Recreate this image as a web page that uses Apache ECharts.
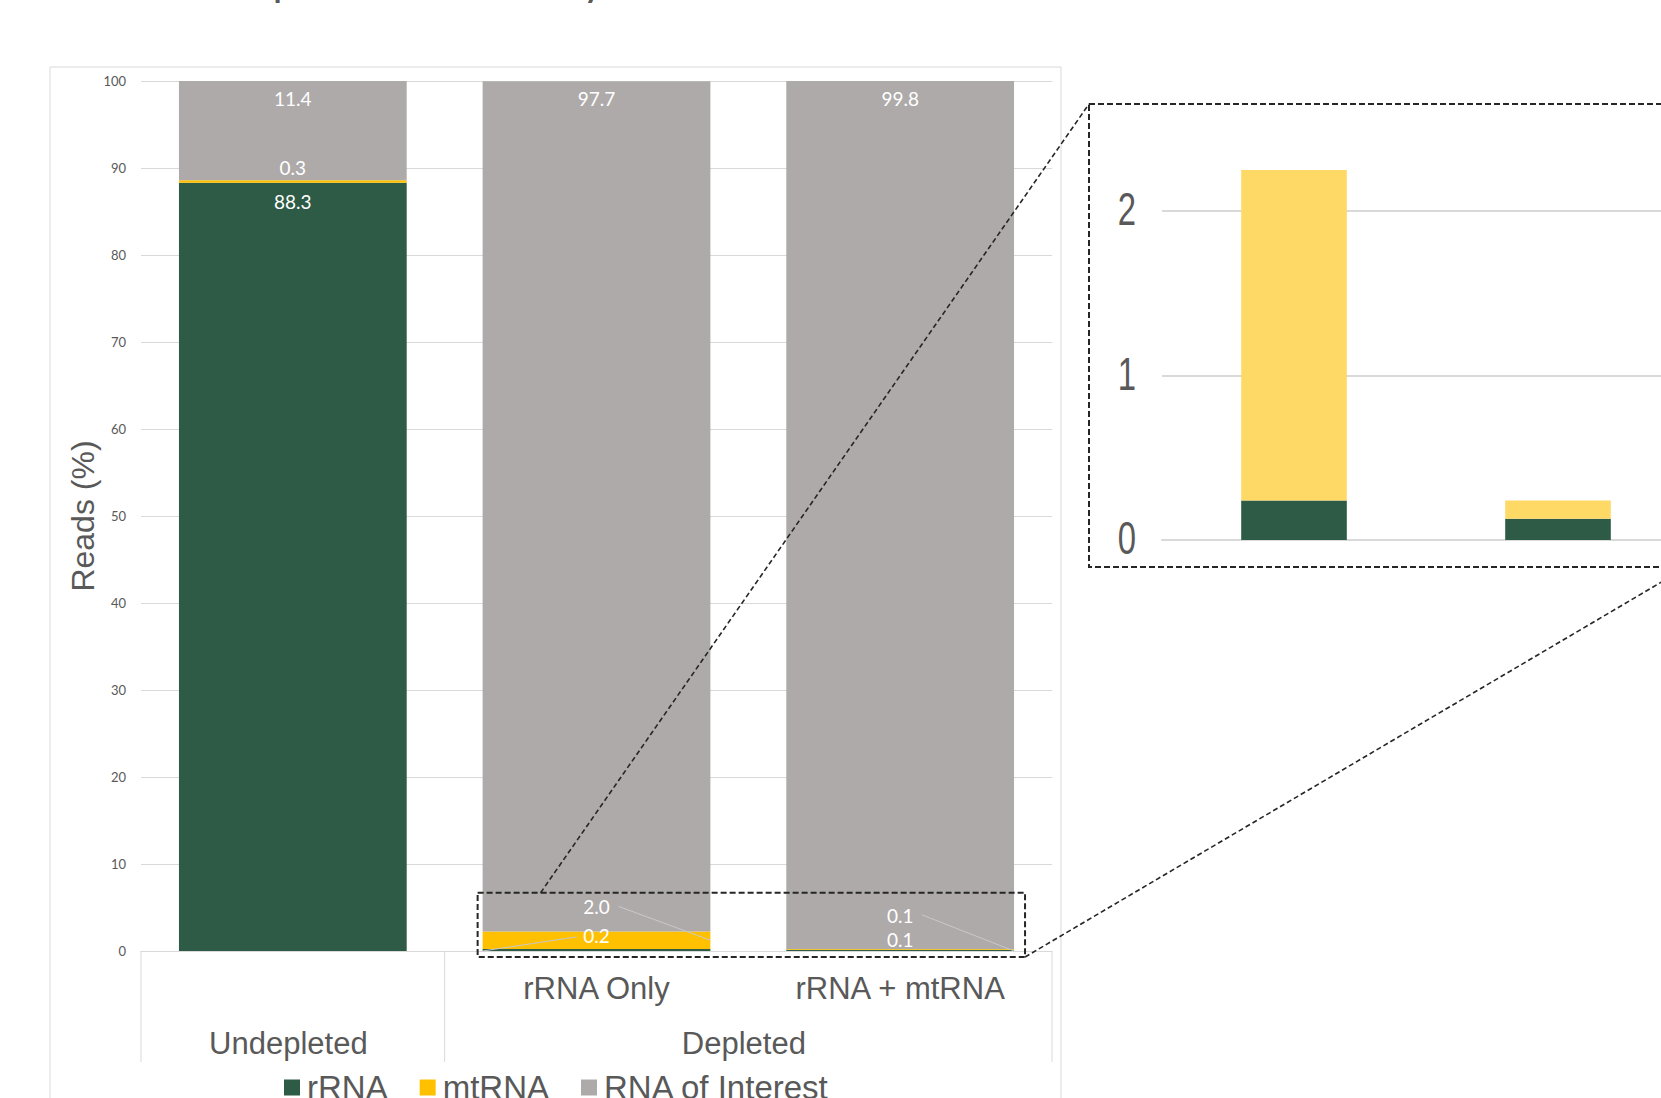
<!DOCTYPE html>
<html><head><meta charset="utf-8">
<script src="https://cdn.jsdelivr.net/npm/echarts@6/dist/echarts.min.js"></script>
<style>html,body{margin:0;padding:0;background:#fff;overflow:hidden}#c{width:1700px;height:1098px}</style>
</head><body><div id="c"></div>
<script>
// ---- data ----
const titleText = 'Depletion Efficiency';
const subLabels = ['', 'rRNA Only', 'rRNA + mtRNA'];
const groupLabels = ['Undepleted', 'Depleted'];
const groupSpans = [1, 2];
const seriesNames = ['rRNA', 'mtRNA', 'RNA of Interest'];
const rRNA = [88.3, 0.24, 0.13];
const mtRNA = [0.3, 2.01, 0.11];
const rnaOfInterest = [11.4, 97.73, 99.76];
const mainYMin = 0, mainYMax = 100, mainYStep = 10;
const insetCategories = ['rRNA Only', 'rRNA + mtRNA'];
const insetYMin = 0, insetYMax = 2.5, insetYStep = 1;
const insetTickLabels = ['0', '1', '2'];

// ---- styles ----
const GREEN = '#2E5B46', YELLOW = '#FFC000', GRAY = '#AEAAAA', LIGHTYELLOW = '#FFD966';
const TXT = '#595959', GRID = '#D9D9D9';
const labelPlace = {
  rRNA: [['insideTop', 9], ['top', 4], ['top', 1]],
  mtRNA: [['top', 3], ['top', 15], ['top', 24]],
  roi: [['insideTop', 8], ['insideTop', 8], ['insideTop', 8]]
};
function items(vals, places) {
  return vals.map((v, i) => ({ value: v, label: { position: places[i][0], distance: places[i][1] } }));
}
const labelBase = { show: true, color: '#fff', fontFamily: 'Lato', fontSize: 19, formatter: p => p.value.toFixed(1) };

const chart = echarts.init(document.getElementById('c'), null, { renderer: 'svg' });
const option = {
  animation: false,
  backgroundColor: '#fff',
  grid: [
    { left: 141, width: 911, top: 81, height: 870 },
    { left: 1162, width: 528, top: 129, height: 411 }
  ],
  legend: {
    data: seriesNames, left: 284, top: 1071, icon: 'rect', itemWidth: 16, itemHeight: 16, itemGap: 32, padding: 0,
    textStyle: { fontSize: 33, color: TXT, fontFamily: 'Liberation Sans', padding: [0, 0, 0, 2] }
  },
  xAxis: [
    { type: 'category', gridIndex: 0, data: subLabels,
      axisLine: { lineStyle: { color: GRID, width: 1 } }, axisTick: { show: false },
      axisLabel: { fontSize: 31, color: TXT, fontFamily: 'Liberation Sans', margin: 22 } },
    { type: 'category', gridIndex: 1, data: insetCategories,
      axisLine: { lineStyle: { color: GRID, width: 2 } }, axisTick: { show: false }, axisLabel: { show: false } }
  ],
  yAxis: [
    { type: 'value', gridIndex: 0, min: mainYMin, max: mainYMax, interval: mainYStep,
      name: 'Reads (%)', nameLocation: 'middle', nameGap: 42, nameMoveOverlap: false,
      nameTextStyle: { fontSize: 32, color: TXT, fontFamily: 'Liberation Sans' },
      axisLine: { show: false }, axisTick: { show: false },
      axisLabel: { fontSize: 13, color: TXT, fontFamily: 'Lato', margin: 15 },
      splitLine: { lineStyle: { color: GRID, width: 1 } } },
    { type: 'value', gridIndex: 1, min: insetYMin, max: insetYMax, interval: insetYStep,
      axisLine: { show: false }, axisTick: { show: false },
      axisLabel: { show: false },
      splitLine: { showMaxLine: false, lineStyle: { color: GRID, width: 2 } } }
  ],
  series: [
    { name: seriesNames[0], type: 'bar', stack: 'main', xAxisIndex: 0, yAxisIndex: 0, barCategoryGap: '25%',
      itemStyle: { color: GREEN }, label: labelBase, data: items(rRNA, labelPlace.rRNA) },
    { name: seriesNames[1], type: 'bar', stack: 'main', xAxisIndex: 0, yAxisIndex: 0,
      itemStyle: { color: YELLOW }, label: labelBase, data: items(mtRNA, labelPlace.mtRNA) },
    { name: seriesNames[2], type: 'bar', stack: 'main', xAxisIndex: 0, yAxisIndex: 0,
      itemStyle: { color: GRAY }, label: labelBase, data: items(rnaOfInterest, labelPlace.roi) },
    { name: seriesNames[0], type: 'bar', stack: 'inset', xAxisIndex: 1, yAxisIndex: 1, barCategoryGap: '60%',
      itemStyle: { color: GREEN }, data: rRNA.slice(1) },
    { name: seriesNames[1], type: 'bar', stack: 'inset', xAxisIndex: 1, yAxisIndex: 1,
      itemStyle: { color: LIGHTYELLOW }, data: mtRNA.slice(1) }
  ]
};
chart.setOption(option);

// ---- annotations derived from axes ----
const px = (i, v) => chart.convertToPixel({ xAxisIndex: 0, yAxisIndex: 0 }, [i, v]);
const ipx = (i, v) => chart.convertToPixel({ xAxisIndex: 1, yAxisIndex: 1 }, [i, v]);
const band = (px(1, 0)[0] - px(0, 0)[0]);
const halfBar = band * 0.375;
const y0 = px(0, 0)[1];
const Z = 50;
const g = [];
// outer chart frame
g.push({ type: 'rect', z: 1, shape: { x: 50, y: 67, width: 1011, height: 1100 }, style: { fill: 'none', stroke: GRID, lineWidth: 1 }, silent: true });
// title (mostly above the visible area)
g.push({ type: 'text', z: Z, x: 216, y: -44, style: { text: titleText, fontSize: 44, fontFamily: 'Lato', fill: TXT, textVerticalAlign: 'top' }, silent: true });
// category group separators and labels
let start = 0;
const bounds = [px(0, 0)[0] - band / 2];
groupLabels.forEach((name, k) => {
  const left = px(start, 0)[0] - band / 2;
  const right = px(start + groupSpans[k] - 1, 0)[0] + band / 2;
  bounds.push(right);
  g.push({ type: 'text', z: Z, x: (left + right) / 2 - 4.5, y: y0 + 92, style: { text: name, fontSize: 31, fontFamily: 'Liberation Sans', fill: TXT, textAlign: 'center', textVerticalAlign: 'middle' }, silent: true });
  start += groupSpans[k];
});
bounds.forEach(x => g.push({ type: 'line', z: 1, shape: { x1: x, y1: y0, x2: x, y2: y0 + 111 }, style: { stroke: GRID, lineWidth: 1 }, silent: true }));
// inset tick labels (condensed, from inset axis values)
insetTickLabels.forEach(t => {
  const p = ipx(0, Number(t));
  g.push({ type: 'text', z: Z, x: 1127, y: p[1] - 2, scaleX: 0.7, originX: 0,
    style: { text: t, fontSize: 47, fontFamily: 'Liberation Sans', fill: TXT, textAlign: 'center', textVerticalAlign: 'middle' }, silent: true });
});
// leader lines for small labels
const c1 = px(1, 0)[0], c2 = px(2, 0)[0];
const lab2y = px(1, rRNA[1] + mtRNA[1])[1] - 15 - 10;
const lab02y = px(1, rRNA[1])[1] - 4 - 10;
const lab3y = px(2, rRNA[2] + mtRNA[2])[1] - 24 - 10;
const leader = { stroke: '#C9C9C9', lineWidth: 1 };
g.push({ type: 'line', z: Z, shape: { x1: c1 + 22, y1: lab2y, x2: c1 + halfBar, y2: px(1, rRNA[1] + mtRNA[1] / 2)[1] }, style: leader, silent: true });
g.push({ type: 'line', z: Z, shape: { x1: c1 - 20, y1: lab02y + 2, x2: c1 - halfBar, y2: y0 }, style: leader, silent: true });
g.push({ type: 'line', z: Z, shape: { x1: c2 + 22, y1: lab3y, x2: c2 + halfBar, y2: y0 }, style: leader, silent: true });
// zoom callout
const dash = { stroke: '#262626', lineWidth: 2, lineDash: [6, 3], fill: 'none' };
const rx1 = c1 - halfBar - 5, rx2 = c2 + halfBar + 11, ry1 = px(1, 6.7)[1], ry2 = y0 + 6;
g.push({ type: 'rect', z: Z, shape: { x: rx1, y: ry1, width: rx2 - rx1, height: ry2 - ry1 }, style: dash, silent: true });
g.push({ type: 'rect', z: Z, shape: { x: 1089, y: 104, width: 598, height: 463 }, style: dash, silent: true });
const thin = { stroke: '#262626', lineWidth: 1.6, lineDash: [5, 3] };
g.push({ type: 'line', z: Z, shape: { x1: rx1 + 63, y1: ry1, x2: 1089, y2: 104 }, style: thin, silent: true });
g.push({ type: 'line', z: Z, shape: { x1: rx2, y1: ry2, x2: 1687, y2: 567 }, style: thin, silent: true });
chart.setOption({ graphic: g });
</script>
</body></html>
